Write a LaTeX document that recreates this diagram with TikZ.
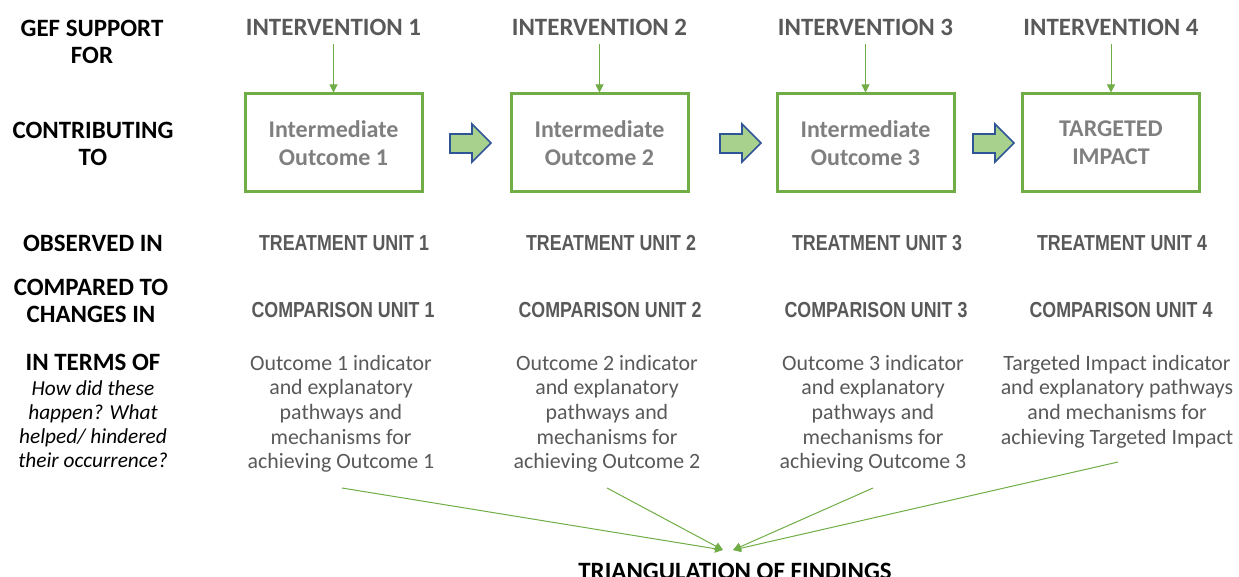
\documentclass[tikz,border=0pt]{standalone}
\usepackage{fontspec}
\setmainfont{Carlito}
\newfontfamily\narrowfont[FakeStretch=0.82]{Liberation Sans}
\usetikzlibrary{arrows.meta, positioning}
\definecolor{boxgreen}{HTML}{70AD47}
\definecolor{fillgreen}{HTML}{A9D18E}
\definecolor{edgeblue}{HTML}{2F5597}
\definecolor{textgray}{HTML}{595959}
\definecolor{lightgray}{HTML}{7F7F7F}
\tikzset{
  rowlabel/.style={font=\fontsize{18.7}{20.3}\selectfont\bfseries, align=center, inner sep=0},
  notelabel/.style={font=\fontsize{16}{18}\selectfont\itshape, align=center, inner sep=0},
  intervention/.style={font=\fontsize{18.7}{20.3}\selectfont\bfseries, text=textgray, inner sep=0},
  outcomebox/.style={draw=boxgreen, line width=2.25pt, minimum width=132.75pt, minimum height=73.5pt,
    font=\fontsize{18}{21}\selectfont\bfseries, text=lightgray, align=center},
  unitlabel/.style={font=\narrowfont\fontsize{16.3}{18}\selectfont\bfseries, text=textgray, inner sep=0},
  description/.style={font=\fontsize{16.4}{18.4}\selectfont, text=textgray, align=center, inner sep=0},
  feed/.style={draw=boxgreen, line width=0.75pt, -{Triangle[length=6pt, width=6pt]}},
  blockarrow/.style={draw=edgeblue, fill=fillgreen, line width=1.2pt, line join=miter}
}

\begin{document}
\begin{tikzpicture}[x=0.75pt, y=-0.75pt]
    \useasboundingbox (0,0) rectangle (1239,577);
    % row labels on the left
    \node[rowlabel] (gef) at (92,41.5) {GEF SUPPORT\\FOR};
    \node[rowlabel] (contrib) at (93,144) {CONTRIBUTING\\TO};
    \node[rowlabel] (observed) at (93,243) {OBSERVED IN};
    \node[rowlabel] (compared) at (91,300.5) {COMPARED TO\\CHANGES IN};
    \node[rowlabel] (terms) at (93,362) {IN TERMS OF};
    \node[notelabel, anchor=north] (how) at (93,380) {How did these\\happen? What\\helped/ hindered\\their occurrence?};

    % the four columns
    \foreach \bx/\ux/\dx/\outcome/\desc [count=\i] in {
        333.5/344/341/{Intermediate\\Outcome 1}/{Outcome 1 indicator\\and explanatory\\pathways and\\mechanisms for\\achieving Outcome 1},
        599.5/611/607/{Intermediate\\Outcome 2}/{Outcome 2 indicator\\and explanatory\\pathways and\\mechanisms for\\achieving Outcome 2},
        865.5/877/873/{Intermediate\\Outcome 3}/{Outcome 3 indicator\\and explanatory\\pathways and\\mechanisms for\\achieving Outcome 3},
        1111/1122/1117/{TARGETED\\IMPACT}/{Targeted Impact indicator\\and explanatory pathways\\and mechanisms for\\achieving Targeted Impact}} {
        \node[intervention] (int\i) at (\bx,27) {INTERVENTION \i};
        \node[outcomebox] (out\i) at (\bx,143) {\outcome};
        \draw[feed] (\bx,44) -- (out\i.north);
        \node[unitlabel] (treat\i) at (\ux,243) {TREATMENT UNIT \i};
        \node[unitlabel] (comp\i) at (\ux-1,310) {COMPARISON UNIT \i};
        \node[description, anchor=north] (desc\i) at (\dx,355) {\desc};
    }

    % block arrows between the boxes
    \foreach \ax in {450,720,973}
        \draw[blockarrow] (\ax,134) -- (\ax+22,134) -- (\ax+22,124) -- (\ax+41,143)
            -- (\ax+22,162) -- (\ax+22,153) -- (\ax,153) -- cycle;

    % triangulation
    \node[rowlabel, anchor=base] (tri) at (735,579) {TRIANGULATION OF FINDINGS};
    \coordinate (s1) at (342,488);
    \coordinate (s2) at (607,488);
    \coordinate (s3) at (873,488);
    \coordinate (s4) at (1118,462);
    \coordinate (t1) at (723,550);
    \coordinate (t2) at (733,550);
    \draw[feed] (s1) -- (t1);
    \draw[feed] (s2) -- (t1);
    \draw[feed] (s3) -- (t2);
    \draw[feed] (s4) -- (t2);
\end{tikzpicture}
\end{document}
